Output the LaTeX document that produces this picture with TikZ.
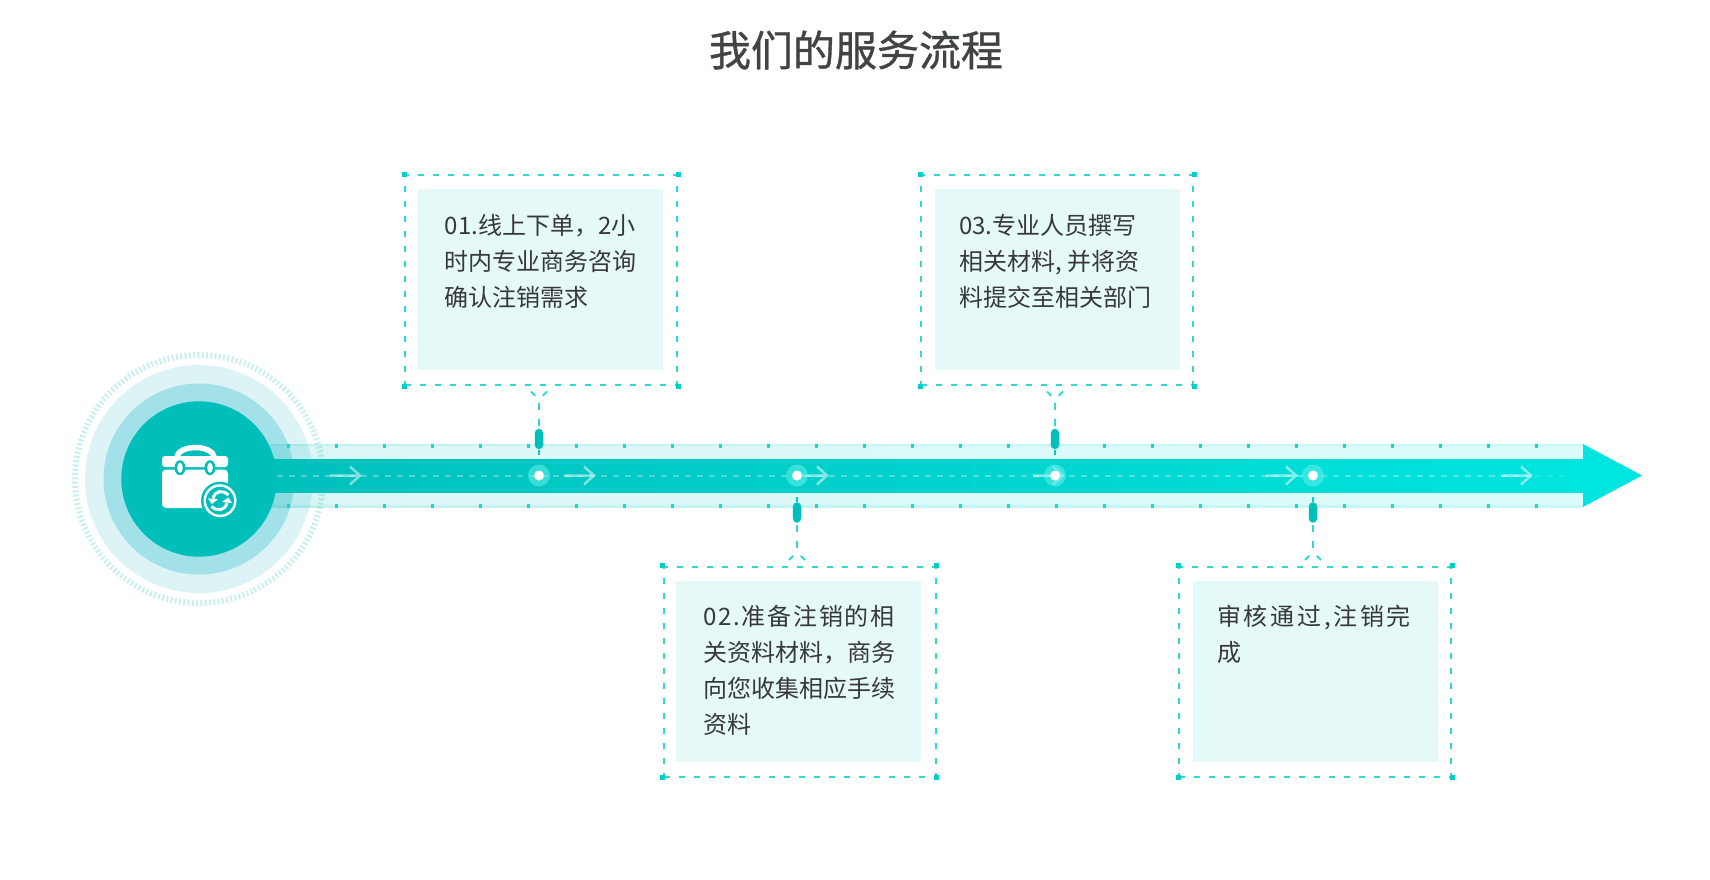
\documentclass[tikz,border=0pt]{standalone}
\usepackage{fontspec}
\setmainfont{Noto Sans CJK SC}
\newfontfamily\headfont[FakeBold=0.8]{Noto Sans CJK SC}
\definecolor{palTeal}{HTML}{00BFBB}
\definecolor{palCyan}{HTML}{00E5DF}
\definecolor{palDash}{HTML}{2ED9D3}
\definecolor{palMark}{HTML}{00CFC9}
\definecolor{palTick}{HTML}{20D3CD}
\definecolor{palNote}{HTML}{E4F9F8}
\definecolor{palRingA}{HTML}{DCF4F6}
\definecolor{palRingB}{HTML}{A1E1E7}
\definecolor{palRingC}{HTML}{C8EFEF}
\definecolor{palGlow}{HTML}{66F0EB}
\definecolor{palInk}{HTML}{383838}
\definecolor{palHead}{HTML}{404444}

\begin{document}
\begin{tikzpicture}[
    x=1pt, y=-1pt,
    headlbl/.style={font=\headfont\fontsize{42}{50}\selectfont, text=palHead, inner sep=0pt},
    lbl/.style={font=\fontsize{24}{36}\selectfont, text=palInk, align=left, anchor=north west, inner sep=0pt},
    noteframe/.style={draw=palDash, line width=2pt, dash pattern=on 6pt off 9pt, minimum width=272, minimum height=210, inner sep=0pt},
    notefill/.style={fill=palNote, minimum width=245, minimum height=181, inner sep=0pt},
    linkdash/.style={draw=palDash, line width=2pt, dash pattern=on 7pt off 9pt},
    linksolid/.style={draw=palMark, line width=1.5pt},
    pinmark/.style={fill=palTeal, draw=palTeal, draw opacity=.25, line width=1.5pt, rounded corners=4pt, minimum width=8, minimum height=20, inner sep=0pt},
    stopring/.style={circle, fill=palGlow, fill opacity=.55, minimum size=22, inner sep=0pt},
    stopdot/.style={circle, fill=white, minimum size=10, inner sep=0pt},
    flowarrow/.style={draw=white, draw opacity=.5, line width=2.5pt},
    centerdash/.style={draw=white, line width=2pt, dash pattern=on 6pt off 6pt},
]
\useasboundingbox (0,0) rectangle (1710,880);

\node[headlbl] (title) at (856,50) {我们的服务流程};

% hub rings
\fill[palRingC] (199,479) circle (127);
\fill[white] (199,479) circle (121);
\draw[white, line width=6.5pt, dash pattern=on 2.2pt off 2.1pt] (199,479) circle (124);
\fill[palRingA] (199,479) circle (114);
\fill[palRingB] (199,479) circle (95.5);

% band
\shade[left color=palTeal, right color=palCyan, opacity=.14] (270,444) rectangle (1583,459);
\shade[left color=palTeal, right color=palCyan, opacity=.14] (270,492) rectangle (1583,507);
\shade[left color=palTeal, right color=palCyan, opacity=.1] (270,444) rectangle (1583,445.5);
\shade[left color=palTeal, right color=palCyan, opacity=.1] (270,505.5) rectangle (1583,507);
\shade[left color=palTeal, right color=palCyan] (250,459) rectangle (1584,492);
\fill[palCyan] (1583,444) -- (1642,475.5) -- (1583,507) -- cycle;
\foreach \tx in {288,336,...,1536} {
    \fill[palTick] (\tx-1.5,444) rectangle (\tx+1.5,448);
    \fill[palTick] (\tx-1.5,503.5) rectangle (\tx+1.5,507.5);
}

% hub and bag icon
\node[circle, fill=palTeal, minimum size=155.4, inner sep=0pt] (hub) at (199,479) {};
\coordinate (tipA) at (1535,475.5);
\coordinate (tipB) at (1572,475.5);
\draw[centerdash, draw opacity=.3] (hub) ++(78,-3.5) -- (tipA);
\draw[centerdash, draw opacity=.12] (tipA) -- (tipB);
\foreach \ax in {360,594,827,1063,1296,1531} {
    \draw[flowarrow] (\ax-30,475.5) -- (\ax,475.5) (\ax-10,466.5) -- (\ax,475.5) -- (\ax-10,484.5);
}
\draw[white, line width=5.5pt] (176.5,458) .. controls (178,444) and (213,444) .. (214.5,458);
\fill[white, rounded corners=3pt] (162,467) -- (162,456) -- (228,456) -- (228,467) -- cycle;
\fill[white, rounded corners=4pt] (162,469.5) -- (162,508) -- (228,508) -- (228,469.5) -- cycle;
\foreach \cx in {180,210} {
    \fill[palTeal] (\cx,467.7) ellipse (5.5 and 7.5);
    \fill[white] (\cx,467.7) ellipse (2.8 and 5.2);
}
\fill[palTeal] (220,500.7) circle (19);
\fill[white] (220,500.7) circle (16.5);
\fill[palTeal] (220,500.7) circle (14);
\draw[white, line width=3pt] (228.5,495) .. controls (223,489.5) and (215,490.5) .. (213,498.5);
\fill[white] (208,498.4) -- (218,499.4) -- (211.7,504) -- cycle;
\draw[white, line width=3pt] (211.5,506.4) .. controls (217,511.9) and (225,510.9) .. (227,502.9);
\fill[white] (232,503) -- (222,502) -- (228.3,497.4) -- cycle;

% notes
\node[noteframe] (frameA) at (541,280) {};
\node[notefill] (noteA) at (540.5,279.5) {};
\node[lbl] (txtA) at (444.5,208.8) {\strut 01.线上下单，2小\\时内专业商务咨询\\确认注销需求};
\node[noteframe] (frameB) at (799.5,671.5) {};
\node[notefill] (noteB) at (798.5,671.5) {};
\node[lbl] (txtB) at (703,600) {\strut{\addfontfeature{LetterSpace=7.3}02.准备注销的相}\\关资料材料，商务\\向您收集相应手续\\资料};
\node[noteframe] (frameC) at (1057,280) {};
\node[notefill] (noteC) at (1057,279.5) {};
\node[lbl] (txtC) at (959,208.8) {\strut 03.专业人员撰写\\相关材料, 并将资\\料提交至相关部门};
\node[noteframe] (frameD) at (1315,671.5) {};
\node[notefill] (noteD) at (1315,671.5) {};
\node[lbl] (txtD) at (1217,600) {\strut{\addfontfeature{LetterSpace=11.3}审核通过,注销完}\\成};
\foreach \fr in {frameA,frameB,frameC,frameD} {
    \foreach \cn in {north west,north east,south west,south east} {
        \fill[palMark] (\fr.\cn) ++(-2.5,-2.5) rectangle ++(5,5);
    }
}

% stops above
\foreach \nm/\sx in {A/539,C/1055} {
    \node[pinmark] (pin\nm) at (\sx,439) {};
    \coordinate (fork\nm) at (\sx,403);
    \coordinate (tail\nm) at (\sx,455);
    \draw[linkdash] (fork\nm) -- (pin\nm.north);
    \draw[linksolid] (pin\nm.south) -- (tail\nm);
    \draw[linkdash, dash pattern=on 6pt off 2pt] (\sx-8,391.5) -- (\sx-3.5,396);
    \draw[linkdash, dash pattern=on 6pt off 2pt] (\sx+8,391.5) -- (\sx+3.5,396);
}
% stops below
\foreach \nm/\sx in {B/797,D/1313} {
    \node[pinmark] (pin\nm) at (\sx,512.5) {};
    \coordinate (fork\nm) at (\sx,548);
    \coordinate (tail\nm) at (\sx,497);
    \draw[linkdash] (fork\nm) -- (pin\nm.south);
    \draw[linksolid] (pin\nm.north) -- (tail\nm);
    \draw[linkdash, dash pattern=on 6pt off 2pt] (\sx-8,560) -- (\sx-3.5,555.5);
    \draw[linkdash, dash pattern=on 6pt off 2pt] (\sx+8,560) -- (\sx+3.5,555.5);
}
\foreach \nm/\sx in {A/539,B/797,C/1055,D/1313} {
    \node[stopring] (ring\nm) at (\sx,475.5) {};
    \node[stopdot] (dot\nm) at (\sx,475.5) {};
}
\end{tikzpicture}
\end{document}
